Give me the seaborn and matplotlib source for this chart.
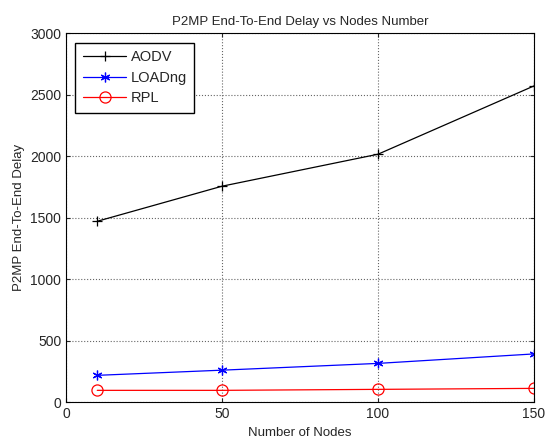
import pandas as pd
import matplotlib.pyplot as plt
import seaborn as sns

# data
nodes = [10, 50, 100, 150]
aodv = [1470, 1755, 2015, 2570]
loadng = [218, 260, 315, 392]
rpl = [96, 96, 104, 112]

df = pd.DataFrame({
    "nodes": nodes * 3,
    "delay": aodv + loadng + rpl,
    "protocol": ["AODV"] * 4 + ["LOADng"] * 4 + ["RPL"] * 4,
})

sns.set_style("white")
plt.rcParams["font.family"] = ["Liberation Sans", "DejaVu Sans"]
plt.rcParams["font.size"] = 9

fig = plt.figure(figsize=(5.46, 4.4), dpi=100)
ax = fig.add_axes([0.121, 0.086, 0.857, 0.839])

styles = {
    "AODV": dict(color="black", marker="+", ms=7),
    "LOADng": dict(color="blue", marker=(6, 2, 0), ms=7),
    "RPL": dict(color="red", marker="o", ms=8),
}
for name, st in styles.items():
    sub = df[df["protocol"] == name]
    sns.lineplot(data=sub, x="nodes", y="delay", ax=ax, label=name,
                 color=st["color"], marker=st["marker"], markersize=st["ms"],
                 markerfacecolor="none", markeredgecolor=st["color"],
                 linewidth=0.9, markeredgewidth=0.9)

ax.set_xlim(0, 150)
ax.set_ylim(0, 3000)
ax.set_xticks([0, 50, 100, 150])
ax.set_yticks(range(0, 3001, 500))
ax.grid(True, color="#666666", linestyle=":", linewidth=0.8)
ax.tick_params(direction="in", length=3, labelsize=10, left=True, bottom=True, top=True, right=True)
for s in ax.spines.values():
    s.set_color("black")
    s.set_linewidth(0.8)

ax.set_title("P2MP End-To-End Delay vs Nodes Number", fontsize=9.5)
ax.set_xlabel("Number of Nodes", fontsize=9.5)
ax.set_ylabel("P2MP End-To-End Delay", fontsize=9.5)

leg = ax.legend(loc="upper left", fancybox=False, framealpha=1, edgecolor="black",
                fontsize=10.5, borderpad=0.5, handlelength=3.0, handletextpad=0.3,
                labelspacing=0.45, borderaxespad=0, bbox_to_anchor=(0.02, 0.973))
leg.get_frame().set_linewidth(1.0)

fig.savefig("out.png", dpi=100)
